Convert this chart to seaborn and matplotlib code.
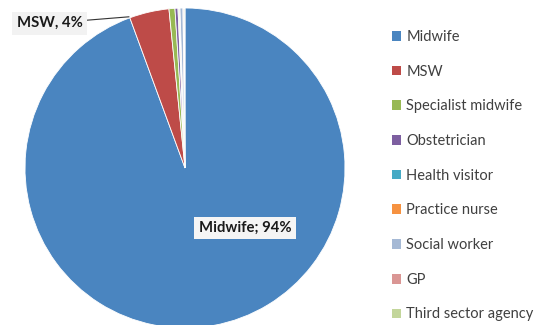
import matplotlib
matplotlib.use("Agg")
import matplotlib.pyplot as plt
import seaborn as sns
from matplotlib.patches import Patch

categories = ["Midwife", "MSW", "Specialist midwife", "Obstetrician", "Health visitor",
              "Practice nurse", "Social worker", "GP", "Third sector agency"]
values = [94.4, 4.0, 0.6, 0.3, 0.1, 0.1, 0.3, 0.1, 0.1]
colors = ["#4A85C0", "#BE4B48", "#98B954", "#7D5FA0", "#46AAC5",
          "#F69240", "#A5B9D5", "#DA9694", "#C3D69B"]

sns.set_style("white")
plt.rcParams['font.family'] = ['Lato', 'DejaVu Sans']
palette = sns.color_palette(colors)

fig = plt.figure(figsize=(5.37, 3.25), dpi=100)
cx, cy, r = 185, 325 - 168, 160
ax = fig.add_axes([(cx - r) / 537, (cy - r) / 325, 2 * r / 537, 2 * r / 325])
wedges, _ = ax.pie(values, colors=palette, startangle=90, counterclock=False,
                   radius=1, wedgeprops=dict(linewidth=0.6, edgecolor="white"))
ax.set_xlim(-1, 1)
ax.set_ylim(-1, 1)
ax.set_aspect("equal")
ax.axis("off")

box = dict(boxstyle="square,pad=0.3", facecolor="#F2F2F2", edgecolor="none")
ax.annotate("MSW, 4%", xy=(-0.35, 0.945), xytext=(-0.845, 0.905),
            fontsize=10.7, fontweight="bold", color="#1A1A1A", ha="center", va="center",
            bbox=box, annotation_clip=False,
            arrowprops=dict(arrowstyle="-", color="#333333", lw=0.8,
                            shrinkA=0, shrinkB=0))
ax.text(0.375, -0.375, "Midwife; 94%", fontsize=10.7, fontweight="bold", color="#1A1A1A",
        ha="center", va="center",
        bbox=dict(boxstyle="square,pad=0.3", facecolor="#F5F5F5", edgecolor="none"))

handles = [Patch(facecolor=c, edgecolor="none") for c in palette]
fig.legend(handles, categories, loc="upper left", bbox_to_anchor=(386 / 537, 1 - 24 / 325),
           frameon=False, fontsize=10.5, labelcolor="#404040", labelspacing=1.42,
           handlelength=0.65, handleheight=0.65, handletextpad=0.35, borderaxespad=0)

fig.savefig("out.png", dpi=100)
